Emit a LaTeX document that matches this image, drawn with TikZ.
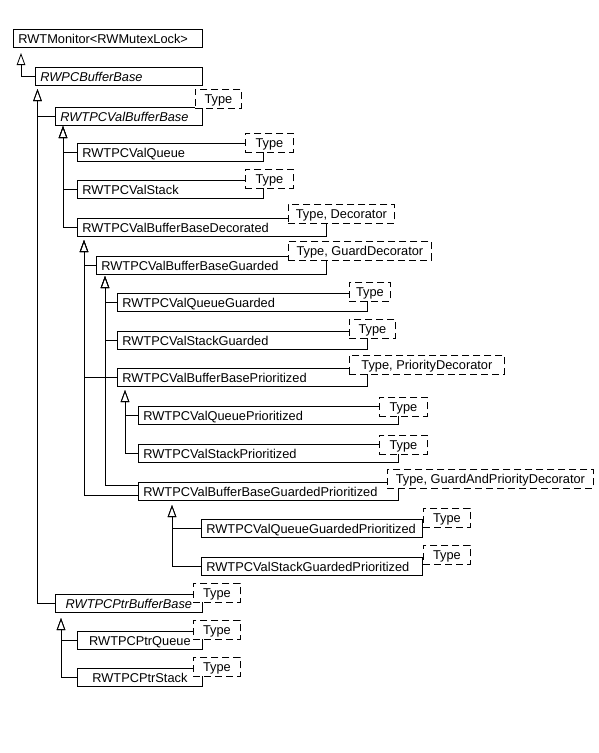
\documentclass[tikz,border=0pt]{standalone}
\usepackage{fontspec}
\setmainfont{Liberation Sans}
\usetikzlibrary{arrows.meta}

\begin{document}
\begin{tikzpicture}[x=1pt, y=-1pt, line width=0.8pt,
  font=\fontsize{12.8}{14}\selectfont,
  cls/.style={draw, anchor=north west, inner xsep=5pt, inner ysep=0pt,
    minimum height=18pt, text height=9.2pt, text depth=0pt, align=left, text width=#1},
  ptrcls/.style={cls=#1, align=center},
  tmpl/.style={draw, dash pattern=on 7pt off 4pt, fill=white, anchor=north west,
    inner sep=0pt, minimum height=19pt, minimum width=#1, text height=9.2pt, text depth=0pt},
  inh/.style={-{Triangle[open, length=12pt, width=8.5pt]}}]
  \useasboundingbox (0,0) rectangle (599,753);

  % classes
  \node[cls=179pt] (mon) at (13,29) {RWTMonitor<RWMutexLock>};
  \node[cls=157pt] (rwpc) at (35,67) {\itshape RWPCBufferBase};
  \node[cls=137pt] (vb) at (55,107) {\itshape RWTPCValBufferBase};
  \node[cls=176pt] (valq) at (77,143) {RWTPCValQueue};
  \node[cls=176pt] (vals) at (77,180) {RWTPCValStack};
  \node[cls=239pt] (dec) at (77,218) {RWTPCValBufferBaseDecorated};
  \node[cls=220pt] (grd) at (96,256) {RWTPCValBufferBaseGuarded};
  \node[cls=240pt] (qg) at (117,293) {RWTPCValQueueGuarded};
  \node[cls=240pt] (sg) at (117,331) {RWTPCValStackGuarded};
  \node[cls=240pt] (pri) at (117,368) {RWTPCValBufferBasePrioritized};
  \node[cls=250pt] (qp) at (138,406) {RWTPCValQueuePrioritized};
  \node[cls=250pt] (sp) at (138,444) {RWTPCValStackPrioritized};
  \node[cls=250pt] (gp) at (138,482) {RWTPCValBufferBaseGuardedPrioritized};
  \node[cls=211pt] (qgp) at (201,519) {RWTPCValQueueGuardedPrioritized};
  \node[cls=211pt] (sgp) at (201,557) {RWTPCValStackGuardedPrioritized};
  \node[ptrcls=137pt] (ptr) at (55,594) {\itshape RWTPCPtrBufferBase};
  \node[ptrcls=115pt] (pq) at (77,631) {RWTPCPtrQueue};
  \node[ptrcls=115pt] (ps) at (77,668) {RWTPCPtrStack};

  % template parameters
  \node[tmpl=46pt] (vb-T) at (195,89) {Type};
  \node[tmpl=48pt] (valq-T) at (245,133) {Type};
  \node[tmpl=48pt] (vals-T) at (245,169) {Type};
  \node[tmpl=106pt] (dec-T) at (288,204) {Type, Decorator};
  \node[tmpl=143pt] (grd-T) at (288,241) {Type, GuardDecorator};
  \node[tmpl=41pt] (qg-T) at (349,282) {Type};
  \node[tmpl=46pt] (sg-T) at (349,319) {Type};
  \node[tmpl=155pt] (pri-T) at (349,355) {Type, PriorityDecorator};
  \node[tmpl=48pt] (qp-T) at (379,397) {Type};
  \node[tmpl=48pt] (sp-T) at (379,435) {Type};
  \node[tmpl=206pt] (gp-T) at (387,469) {Type, GuardAndPriorityDecorator};
  \node[tmpl=47pt] (qgp-T) at (423,508) {Type};
  \node[tmpl=47pt] (sgp-T) at (423,545) {Type};
  \node[tmpl=47pt] (ptr-T) at (193,583) {Type};
  \node[tmpl=47pt] (pq-T) at (193,620) {Type};
  \node[tmpl=47pt] (ps-T) at (193,657) {Type};

  % arrow tips below the base classes
  \coordinate (mon-t) at (21,53);
  \coordinate (rwpc-t) at (37.5,89);
  \coordinate (vb-t) at (63,126);
  \coordinate (dec-t) at (84,240);
  \coordinate (grd-t) at (105,276);
  \coordinate (pri-t) at (125,390);
  \coordinate (gp-t) at (172,505);
  \coordinate (ptr-t) at (61,618);

  % inheritance
  \foreach \c/\p in {rwpc/mon-t, vb/rwpc-t, ptr/rwpc-t, valq/vb-t, vals/vb-t, dec/vb-t,
                     grd/dec-t, pri/dec-t, qg/grd-t, sg/grd-t, qp/pri-t, sp/pri-t,
                     qgp/gp-t, sgp/gp-t, pq/ptr-t, ps/ptr-t} {
    \draw[inh] (\c.west) -| (\p);
  }
  \draw[inh] ([yshift=6.5pt]gp.west) -| (grd-t);
  \draw[inh] ([yshift=-3.5pt]gp.west) -| (dec-t);
\end{tikzpicture}
\end{document}
